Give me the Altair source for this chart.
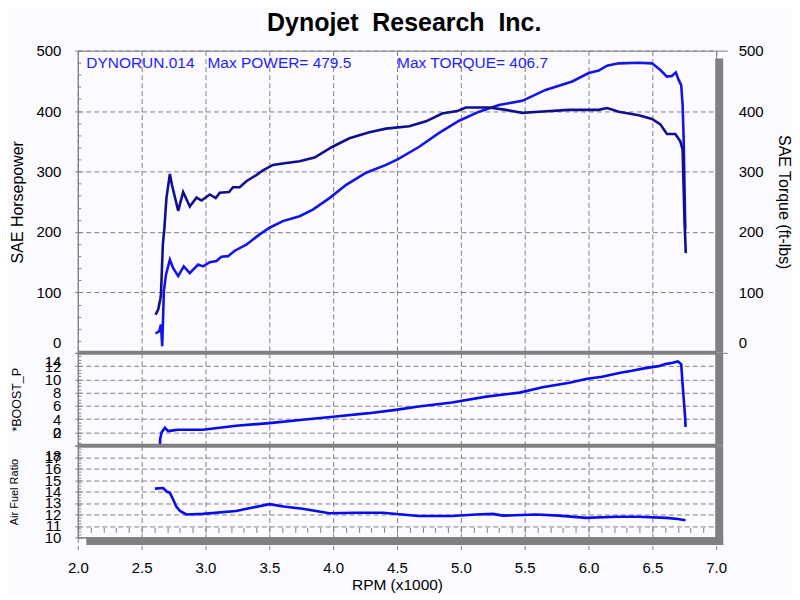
import altair as alt
import pandas as pd

# ---------------- data ----------------
tq_rpm = [2.609, 2.630, 2.645, 2.651, 2.666, 2.678, 2.694, 2.721, 2.737, 2.786, 2.825, 2.877,
          2.930, 2.969, 3.034, 3.080, 3.112, 3.184, 3.216, 3.268, 3.320, 3.398, 3.450, 3.528,
          3.633, 3.737, 3.854, 3.995, 4.127, 4.284, 4.414, 4.596, 4.727, 4.854, 4.971, 5.039,
          5.221, 5.352, 5.481, 5.612, 5.846, 6.002, 6.080, 6.145, 6.237, 6.393, 6.497, 6.563,
          6.614, 6.680, 6.719, 6.737, 6.745, 6.752, 6.762]
tq_val = [63, 72, 88, 96, 179, 206, 256, 296, 278, 235, 266, 242,
          257, 252, 262, 256, 265, 266, 274, 274, 284, 294, 302, 311,
          314, 317, 323, 341, 355, 365, 371, 375, 383, 396, 400, 406,
          406, 402, 397, 399, 402, 402, 402, 405, 399, 393, 387, 378,
          362, 362, 350, 336, 273, 218, 165]

hp_rpm = [2.609, 2.638, 2.651, 2.661, 2.674, 2.690, 2.721, 2.747, 2.786, 2.830, 2.877, 2.942,
          2.981, 3.034, 3.086, 3.125, 3.177, 3.229, 3.320, 3.424, 3.502, 3.606, 3.737, 3.841,
          3.971, 4.102, 4.258, 4.414, 4.505, 4.674, 4.830, 4.987, 5.143, 5.299, 5.481, 5.664,
          5.872, 6.002, 6.080, 6.145, 6.237, 6.393, 6.497, 6.563, 6.614, 6.653, 6.684, 6.705,
          6.726, 6.737, 6.745, 6.752, 6.758]
hp_val = [32, 36, 47, 11, 102, 129, 154, 140, 127, 143, 132, 146,
          143, 150, 152, 159, 160, 169, 179, 196, 207, 218, 226, 237,
          256, 278, 298, 311, 320, 341, 364, 384, 399, 410, 417, 435,
          449, 463, 467, 475, 479, 480, 479, 468, 457, 458, 464, 452,
          443, 410, 355, 273, 204]

boost_rpm = [2.604, 2.643, 2.645, 2.656, 2.682, 2.708, 2.747, 2.786, 2.98, 3.24, 3.50, 3.76,
             4.02, 4.28, 4.49, 4.67, 4.93, 5.20, 5.46, 5.64, 5.85, 5.92, 5.99, 6.106,
             6.25, 6.34, 6.445, 6.55, 6.60, 6.66, 6.70, 6.726, 6.737, 6.747, 6.758, 6.760]
boost_val = [0.0, 0.0, 1.0, 2.0, 2.7, 2.2, 2.3, 2.4, 2.4, 3.0, 3.4, 3.9,
             4.4, 4.9, 5.4, 5.9, 6.5, 7.4, 8.0, 8.8, 9.5, 9.8, 10.1, 10.4,
             11.0, 11.3, 11.7, 12.0, 12.3, 12.5, 12.7, 12.3, 9.2, 6.7, 3.9, 2.8]

afr_rpm = [2.604, 2.669, 2.695, 2.72, 2.747, 2.77, 2.80, 2.85, 2.98, 3.24, 3.37, 3.50,
           3.61, 3.76, 3.97, 4.18, 4.39, 4.54, 4.67, 4.93, 5.12, 5.25, 5.33, 5.59,
           5.77, 5.98, 6.22, 6.39, 6.61, 6.70, 6.76]
afr_val = [14.25, 14.3, 14.0, 13.9, 13.3, 12.7, 12.3, 12.0, 12.05, 12.3, 12.6, 12.9,
           12.7, 12.5, 12.1, 12.15, 12.15, 12.0, 11.87, 11.87, 12.0, 12.05, 11.9, 12.0,
           11.9, 11.7, 11.8, 11.8, 11.7, 11.6, 11.5]

x_ticks = [2.0, 2.5, 3.0, 3.5, 4.0, 4.5, 5.0, 5.5, 6.0, 6.5, 7.0]
x_minor = [round(2.0 + 0.1 * i, 1) for i in range(51)]
power_ticks = [0, 100, 200, 300, 400, 500]
power_minor = list(range(0, 501, 20))
boost_ticks = [0, 2, 4, 6, 8, 10, 12, 14]
boost_minor = [0.5 * i for i in range(29)]
afr_ticks = [10, 11, 12, 13, 14, 15, 16, 17, 18]
afr_minor = [10 + 0.25 * i for i in range(33)]

# double spaces kept visible with no-break spaces
title_text = "Dynojet\u00a0 Research\u00a0 Inc."
run_label = "DYNORUN.014"
power_label = "Max POWER= 479.5"
torque_label = "Max TORQUE= 406.7"

# ---------------- styling ----------------
W, H1, H2, H3 = 640, 303, 93, 92
GRAY = "#808080"
BG = "#fbfaff"
FONT = "Liberation Sans"
C_TQ = "#10108c"
C_HP = "#1414e6"
C_AUX = "#0a0af0"
C_TXT = "#1e1eff"
DASH = [5, 3]
LW = 2.6

df_tq = pd.DataFrame({"rpm": tq_rpm, "tq": tq_val})
df_hp = pd.DataFrame({"rpm": hp_rpm, "hp": hp_val})
df_boost = pd.DataFrame({"rpm": boost_rpm, "boost": boost_val})
df_afr = pd.DataFrame({"rpm": afr_rpm, "afr": afr_val})
one = pd.DataFrame({"k": [0]})

xs = alt.Scale(domain=[2, 7], nice=False, zero=False)

ax_grid = alt.Axis(values=x_ticks, grid=True, gridColor=GRAY, gridDash=DASH,
                   labels=False, ticks=False, domain=False, title=None)
ax_bottom = alt.Axis(orient="bottom", values=x_ticks, format=".1f", grid=True,
                     gridColor=GRAY, gridDash=DASH, ticks=True, tickSize=12,
                     tickColor=GRAY, tickDash=DASH, domainColor=GRAY,
                     labelPadding=11, labelFontSize=15, labelFlush=False,
                     labelOverlap=False, title="RPM (x1000)", titleFontSize=15.5,
                     titleBaseline="middle", titleX=W / 2, titleY=47)
ax_xminor = alt.Axis(orient="bottom", offset=-10, values=x_minor, tickSize=5,
                     tickColor=GRAY, labels=False, domain=False, grid=False, title=None)


def offset_cond(pairs):
    return {"condition": [{"test": f"datum.value == {v}", "value": o} for v, o in pairs],
            "value": 0}


def left_axis(values, title, tsize, tx, height, offs):
    return alt.Axis(orient="left", values=values, grid=True, gridColor=GRAY, gridDash=DASH,
                    tickSize=3, tickColor=GRAY, domainColor=GRAY, labelPadding=14,
                    labelFontSize=15, labelOverlap=False, labelFlush=False,
                    labelOffset=offset_cond(offs),
                    title=title, titleFontSize=tsize, titleAngle=270,
                    titleBaseline="middle", titleX=tx, titleY=height / 2)


def minor_axis(values):
    return alt.Axis(orient="left", offset=-3, values=values, tickSize=3, tickColor=GRAY,
                    labels=False, domain=False, grid=False, title=None)


def rect(x1, x2, y1, y2):
    return alt.Chart(one).mark_rect(color=GRAY).encode(
        x=alt.value(x1), x2=alt.value(x2), y=alt.value(y1), y2=alt.value(y2))


def note(txt, x):
    return alt.Chart(one).mark_text(align="left", baseline="alphabetic", font=FONT,
                                    fontSize=15.5, color=C_TXT).encode(
        x=alt.value(x), y=alt.value(17), text=alt.value(txt))


# ---------------- top panel: power & torque ----------------
ys_top = alt.Scale(domain=[0, 500], nice=False, zero=False)
x_top = alt.X("rpm:Q", scale=xs, axis=ax_grid)

top_minor = alt.Chart(df_hp).mark_line(opacity=0).encode(
    x=x_top, y=alt.Y("hp:Q", scale=ys_top, axis=minor_axis(power_minor)))
hp_line = alt.Chart(df_hp).mark_line(color=C_HP, strokeWidth=LW).encode(
    x=x_top,
    y=alt.Y("hp:Q", scale=ys_top,
            axis=left_axis(power_ticks, "SAE Horsepower", 16, -60.5, H1, [(0, -10)])))
tq_axis = alt.Axis(orient="right", values=power_ticks, grid=False, domain=False,
                   tickSize=11, tickColor=GRAY,
                   tickOpacity={"condition": {"test": "datum.value == 0 || datum.value == 500",
                                              "value": 1}, "value": 0},
                   labelPadding=11, labelFontSize=15, labelOverlap=False, labelFlush=False,
                   labelOffset=offset_cond([(0, -10)]),
                   title="SAE Torque (ft-lbs)", titleFontSize=16, titleAngle=90,
                   titleBaseline="middle", titleX=67.5, titleY=H1 / 2)
tq_line = alt.Chart(df_tq).mark_line(color=C_TQ, strokeWidth=LW).encode(
    x=x_top, y=alt.Y("tq:Q", scale=ys_top, axis=tq_axis))

top = alt.layer(
    top_minor, hp_line, tq_line,
    rect(W - 1, W + 7, 8, H1),
    note(run_label, 8.5), note(power_label, 130), note(torque_label, 320),
).resolve_axis(y="independent").properties(width=W, height=H1)

# ---------------- boost panel ----------------
ys_boost = alt.Scale(domain=[0, 14], nice=False, zero=False)
boost_minor_l = alt.Chart(df_boost).mark_line(opacity=0).encode(
    x=x_top, y=alt.Y("boost:Q", scale=ys_boost, axis=minor_axis(boost_minor)))
boost_line = alt.Chart(df_boost).mark_line(color=C_AUX, strokeWidth=LW).encode(
    x=x_top,
    y=alt.Y("boost:Q", scale=ys_boost,
            axis=left_axis(boost_ticks, "*BOOST_P", 12.5, -61, H2, [(14, 9), (0, -13)])))
boost = alt.layer(
    boost_minor_l, boost_line,
    rect(0, W, -2, 2),
    rect(W - 1, W + 7, 0, H2),
).resolve_axis(y="independent").properties(width=W, height=H2)

# ---------------- air fuel ratio panel ----------------
ys_afr = alt.Scale(domain=[10, 18], nice=False, zero=False)
afr_minor_l = alt.Chart(df_afr).mark_line(opacity=0).encode(
    x=alt.X("rpm:Q", scale=xs, axis=ax_xminor),
    y=alt.Y("afr:Q", scale=ys_afr, axis=minor_axis(afr_minor)))
afr_line = alt.Chart(df_afr).mark_line(color=C_AUX, strokeWidth=LW).encode(
    x=alt.X("rpm:Q", scale=xs, axis=ax_bottom),
    y=alt.Y("afr:Q", scale=ys_afr,
            axis=left_axis(afr_ticks, "Air Fuel Ratio", 11, -63, H3, [(18, 10)])))
afr = alt.layer(
    afr_minor_l, afr_line,
    rect(0, W, -2, 2),
    rect(W - 1, W + 7, 0, H3 + 7.5),
    rect(8.5, W + 7, H3, H3 + 7.5),
).resolve_axis(x="independent", y="independent").properties(width=W, height=H3)

chart = alt.vconcat(top, boost, afr, spacing=0, bounds="flush").properties(
    title=alt.TitleParams(title_text, font=FONT, fontSize=25, fontWeight="bold",
                          color="black", anchor="middle", offset=7, dx=4),
    padding={"left": 0, "top": 2, "right": 0, "bottom": 0},
    background=BG,
).configure_view(stroke=GRAY, strokeWidth=1).configure_axis(
    labelFont=FONT, titleFont=FONT, labelColor="black", titleColor="black",
    titleFontWeight="normal")

chart.save("out.html", embed_options={"renderer": "svg", "actions": False})
